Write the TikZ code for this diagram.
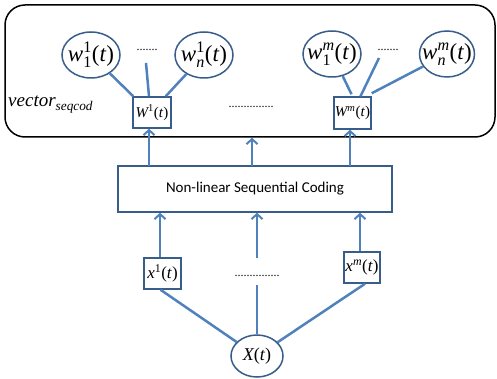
\documentclass[tikz,border=0pt]{standalone}
\usepackage{amsmath}
\usepackage[no-math]{fontspec}
\setmainfont{Liberation Serif}
\newfontfamily\calibri{Carlito}
\newcommand{\tmi}[1]{\text{\rmfamily\itshape #1}}
\newcommand{\tmu}[1]{\text{\rmfamily\upshape #1}}
\newcommand{\pt}{\tmu{(}\tmi{t\/}\tmu{)}}
\usetikzlibrary{shapes.geometric,arrows.meta,calc}
\definecolor{lineblue}{RGB}{79,129,189}
\definecolor{edgeblue}{RGB}{56,93,138}
\tikzset{
  wnode/.style={ellipse, draw=edgeblue, line width=1.5pt, minimum width=58pt, minimum height=46pt, inner sep=0pt},
  wlab/.style={font=\rmfamily\fontsize{23}{23}\selectfont, inner sep=0pt},
  wbox/.style={rectangle, draw=edgeblue, line width=1.5pt, minimum width=38pt, minimum height=31pt, inner sep=0pt, font=\rmfamily\fontsize{15}{15}\selectfont},
  xbox/.style={rectangle, draw=edgeblue, line width=1.5pt, minimum width=37pt, minimum height=31pt, inner sep=0pt, font=\rmfamily\fontsize{17}{17}\selectfont},
  dotlabel/.style={inner sep=0pt, font=\rmfamily\fontsize{12}{12}\selectfont},
  conn/.style={draw=lineblue, line width=2.5pt},
  arr/.style={conn, -{Straight Barb[length=5pt,width=11pt,line width=2pt]}},
}
\begin{document}
\begin{tikzpicture}[x=1pt,y=-1pt]
\useasboundingbox (0,0) rectangle (497,379);
% outer panel
\node[draw=black, line width=1.5pt, rounded corners=20pt, minimum width=490pt, minimum height=132pt, inner sep=0pt] (outer) at (250,71) {};
% top row
\node[wnode, label={[wlab]center:$\tmi{w}_{\tmu{1}}^{\tmu{1}}\pt$}] (w11) at (91,55) {};
\node[wnode, label={[wlab]center:$\tmi{w}_{\tmi{n}}^{\tmu{1}}\pt$}] (wn1) at (204,55) {};
\node[wnode, label={[wlab]center:$\tmi{w}_{\tmu{1}}^{\tmi{m}}\pt$}] (w1m) at (332,54) {};
\node[wnode, minimum width=55pt, label={[wlab]center:$\tmi{w}_{\tmi{n}}^{\tmi{m}}\pt$}] (wnm) at (447,54) {};
\node[dotlabel] (dots1) at (147,50) {.......};
\node[dotlabel] (dotsm) at (388,50) {.......};
\node[wbox] (W1) at (152,112.5) {$\tmi{W}^{\tmu{1}}\pt$};
\node[wbox, minimum width=37pt, minimum height=32pt] (Wm) at (352.5,113) {$\tmi{W}^{\tmi{m}}\pt$};
\node[dotlabel] (middots) at (251,107) {...............};
\node[anchor=base west, inner sep=0pt, font=\rmfamily\fontsize{19}{19}\selectfont] (vec) at (8,107) {$\tmi{vector}_{\tmi{seqcod}}$};
% coding block
\node[rectangle, draw=edgeblue, line width=1.5pt, minimum width=274pt, minimum height=46pt, inner sep=0pt, font=\calibri\fontsize{15}{15}\selectfont] (nlsc) at (255,189) {Non-linear Sequential Coding};
% inputs
\node[xbox] (x1) at (162.5,273.5) {$\tmi{x}^{\tmu{1}}\pt$};
\node[xbox, minimum width=36pt] (xm) at (362,267.5) {$\tmi{x}^{\tmi{m}}\pt$};
\node[dotlabel] (botdots) at (257,276) {...............};
\node[ellipse, draw=edgeblue, line width=1.5pt, minimum width=52pt, minimum height=42pt, inner sep=0pt, label={[inner sep=0pt, font=\rmfamily\fontsize{18}{18}\selectfont]center:$\tmi{X}\pt$}] (X) at (257,356) {};
% coordinates
\coordinate (d1) at (146,63);
\coordinate (dm) at (379,58);
\coordinate (b2) at (257,285);
\coordinate (t2) at (257,258);
\coordinate (a1) at (149,166);
\coordinate (a2) at (252,166);
\coordinate (a3) at (350,166);
\coordinate (c1) at (160,0);
\coordinate (c3) at (360,0);
% top connections
\draw[conn] (w11) -- ($(W1.north west)+(1,0)$);
\draw[conn] (d1) -- ($(W1.north)+(-3,0)$);
\draw[conn] (wn1) -- ($(W1.north east)+(-6,0)$);
\draw[conn] (w1m) -- ($(Wm.north)+(-1,-2)$);
\draw[conn] (dm) -- ($(Wm.north)+(8,0)$);
\draw[conn] (wnm) -- ($(Wm.north east)+(0,-3)$);
% arrows into top
\draw[arr] (a1) -- (a1 |- W1.south);
\draw[arr] (a2) -- (a2 |- outer.south);
\draw[arr] (a3) -- (a3 |- Wm.south);
% arrows into coding block
\draw[arr] (c1 |- x1.north) -- (c1 |- nlsc.south);
\draw[arr] (t2) -- (t2 |- nlsc.south);
\draw[arr] (c3 |- xm.north) -- (c3 |- nlsc.south);
% bottom connections
\draw[conn] ($(x1.south)+(-2,0)$) -- (X);
\draw[conn] (b2) -- (X);
\draw[conn] ($(xm.south)+(3,0)$) -- (X);
\end{tikzpicture}
\end{document}
